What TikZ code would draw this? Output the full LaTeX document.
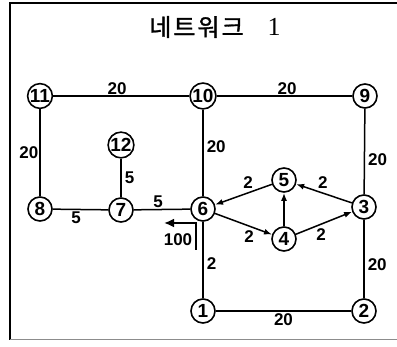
\documentclass[tikz,border=0pt]{standalone}
\usepackage{fontspec}
\setmainfont{Liberation Sans}
\newfontfamily\krfont[FakeBold = 1.2]{Noto Sans CJK KR}
\newfontfamily\numfont{Liberation Serif}
\usetikzlibrary{arrows.meta}

\begin{document}
\begin{tikzpicture}[x = 1pt, y = -1pt,
    vtx/.style = {circle, draw, fill = white, line width = 1.6pt,
      minimum size = 24pt, inner sep = 0.3pt,
      font = \bfseries\fontsize{19}{19}\selectfont},
    wt/.style = {font = \bfseries\fontsize{17}{17}\selectfont, inner sep = 1pt},
    link/.style = {line width = 1.5pt},
    arc/.style = {line width = 1.5pt, -{Latex[length = 8pt, width = 6pt]}}]
    \useasboundingbox (0,0) rectangle (397,347);
    % frame
    \draw [line width = 1.4pt] (397,3) -- (10,3) -- (10,340);
    \draw [line width = 1pt, black!45] (10,340) -- (397,340);
    \node (title) at (215,27)
      {\fontsize{24}{24}\selectfont\krfont 네\hspace{2pt}트\hspace{2pt}워\hspace{2pt}크\hspace{24pt}{\fontsize{26}{26}\selectfont\numfont 1}};
    % vertices
    \node [vtx] (n11) at (40,96) {11};
    \node [vtx] (n10) at (203,96) {10};
    \node [vtx] (n9) at (365,96) {9};
    \node [vtx] (n12) at (121,145) {12};
    \node [vtx] (n8) at (40,209) {8};
    \node [vtx] (n7) at (121,210) {7};
    \node [vtx] (n6) at (203,209) {6};
    \node [vtx] (n5) at (284,180) {5};
    \node [vtx] (n3) at (364,207) {3};
    \node [vtx] (n4) at (284,239) {4};
    \node [vtx] (n1) at (203,311) {1};
    \node [vtx] (n2) at (364,311) {2};
    % undirected links
    \draw [link] (n11) to node [wt, above, pos = 0.47] {20} (n10);
    \draw [link] (n10) to node [wt, above, pos = 0.52] {20} (n9);
    \draw [link] (n11) to node [wt, left, pos = 0.5] {20} (n8);
    \draw [link] (n10) to node [wt, right = 2pt, pos = 0.43] {20} (n6);
    \draw [link] (n9) to node [wt, right = 2pt, pos = 0.6] {20} (n3);
    \draw [link] (n12) to node [wt, right = 2pt] {5} (n7);
    \draw [link] (n8) to node [wt, below = 1pt, pos = 0.42] {5} (n7);
    \draw [link] (n7) to node [wt, above, pos = 0.43] {5} (n6);
    \draw [link] (n6) to node [wt, right = 2pt, pos = 0.55] {2} (n1);
    \draw [link] (n3) to node [wt, right = 2pt, pos = 0.57] {20} (n2);
    \draw [link] (n1) to node [wt, below = 1pt, pos = 0.5] {20} (n2);
    % directed arcs
    \draw [arc] (n5) to node [wt, above = 3pt, pos = 0.42] {2} (n6);
    \draw [arc] (n3) to node [wt, above = 3pt, pos = 0.52] {2} (n5);
    \draw [arc] (n6) to node [wt, below = 3pt, pos = 0.6] {2} (n4);
    \draw [arc] (n4) to node [wt, below = 3pt, pos = 0.45] {2} (n3);
    \draw [arc] (n4) to (n5);
    % supply of 100 at vertex 6
    \coordinate (src) at (196,250);
    \coordinate (dst) at (164,223);
    \draw [line width = 2.8pt, -{Latex[length = 10pt, width = 9pt]}] (src) |- (dst);
    \node [wt] (supply) at (178,240) {100};
\end{tikzpicture}
\end{document}
